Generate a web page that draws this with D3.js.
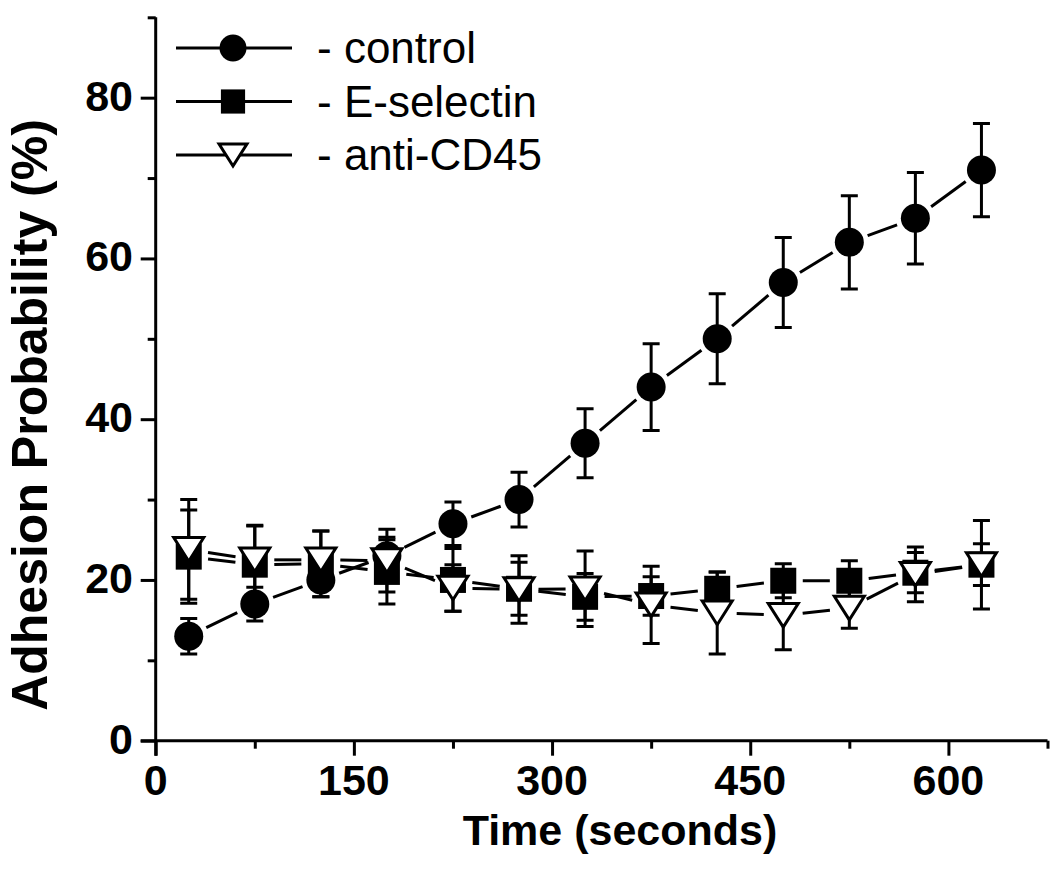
<!DOCTYPE html>
<html>
<head>
<meta charset="utf-8">
<script src="https://cdn.jsdelivr.net/npm/d3@7"></script>
<style>
body { margin: 0; background: #fff; }
svg text { font-family: "Liberation Sans", Arial, sans-serif; fill: #000; }
</style>
</head>
<body>
<div class="chart-wrapper"></div>
<script>

const times = [25, 75, 125, 175, 225, 275, 325, 375, 425, 475, 525, 575, 625]

const control = [13, 17, 20, 23, 27, 30, 37, 44, 50, 57, 62, 65, 71]
const controlErr = [2.2, 2.1, 2.1, 2.3, 2.7, 3.4, 4.3, 5.4, 5.6, 5.6, 5.8, 5.7, 5.8]

const eSelectin = [22.9, 21.9, 22, 21, 20, 18.9, 17.9, 18, 18.9, 19.9, 19.9, 20.9, 21.9]
const eSelectinErr = [5.8, 4.8, 4.1, 4.0, 3.9, 3.3, 2.9, 2.4, 2.1, 2.1, 2.5, 2.5, 2.6]

const antiCD45 = [23.8, 22.5, 22.5, 22.4, 19, 18.8, 18.9, 16.9, 15.9, 15.6, 16.5, 20.7, 21.9]
const antiCD45Err = [6.2, 4.3, 3.6, 3.9, 2.9, 4.2, 4.7, 4.8, 5.1, 4.3, 2.5, 3.4, 5.5]

const xTicks = [0, 150, 300, 450, 600]
const yTicks = [0, 20, 40, 60, 80]

const seriesNames = ['- control', '- E-selectin', '- anti-CD45']

const width = 1050
const height = 888

const svg = d3.select('.chart-wrapper')
.append('svg')
.attr('width', width)
.attr('height', height)

const x = d3.scaleLinear()
.domain([0, 675])
.range([155.7, 1047.5])

const y = d3.scaleLinear()
.domain([0, 90])
.range([740.7, 17.3])

// axes, origin style: ticks outside, minor ticks shorter
const xAxis = svg.append('g')
.attr('transform', `translate(0,${y(0)})`)
.call(d3.axisBottom(x).tickValues(d3.range(0, 676, 75)).tickSize(8).tickFormat(''))

xAxis.selectAll('.tick line')
.filter(d => d % 150 === 0)
.attr('y2', 15)

const yAxis = svg.append('g')
.attr('transform', `translate(${x(0)},0)`)
.call(d3.axisLeft(y).tickValues(d3.range(0, 91, 10)).tickSize(8).tickFormat(''))

yAxis.selectAll('.tick line')
.filter(d => d % 20 === 0)
.attr('x2', -15)

svg.selectAll('.domain')
.attr('stroke', '#000')
.attr('stroke-width', 3)
.attr('d', function() { return d3.select(this).attr('d').replace(/[MV]/g, c => c) })

xAxis.select('.domain').attr('d', `M${x(0) - 15},0H${x(675)}`)
yAxis.select('.domain').attr('d', `M0,${y(90)}V${y(0) + 15}`)

svg.selectAll('.tick line')
.attr('stroke', '#000')
.attr('stroke-width', 3)

svg.append('g')
.selectAll('text')
.data(xTicks)
.enter()
.append('text')
.attr('x', d => x(d))
.attr('y', 795)
.attr('text-anchor', 'middle')
.style('font-size', '43px')
.style('font-weight', 'bold')
.text(d => d)

svg.append('g')
.selectAll('text')
.data(yTicks)
.enter()
.append('text')
.attr('x', 133)
.attr('y', d => y(d) + 13)
.attr('text-anchor', 'end')
.style('font-size', '43px')
.style('font-weight', 'bold')
.text(d => d)

svg.append('text')
.attr('x', 620)
.attr('y', 845)
.attr('text-anchor', 'middle')
.style('font-size', '43px')
.style('font-weight', 'bold')
.text('Time (seconds)')

svg.append('text')
.attr('transform', 'translate(47,415) rotate(-90)')
.attr('text-anchor', 'middle')
.style('font-size', '50px')
.style('font-weight', 'bold')
.text('Adhesion Probability (%)')

// series
const series = [
    {name: seriesNames[0], values: control, err: controlErr, shape: 'circle'},
    {name: seriesNames[1], values: eSelectin, err: eSelectinErr, shape: 'square'},
    {name: seriesNames[2], values: antiCD45, err: antiCD45Err, shape: 'triangle'}
]

const gap = 19.5

const drawMarker = (g, shape, cx, cy, scale) => {
    if(shape === 'circle')
    {
        g.append('circle')
        .attr('cx', cx)
        .attr('cy', cy)
        .attr('r', 14.5 * scale)
        .attr('fill', '#000')
    }
    if(shape === 'square')
    {
        const s = 26 * scale
        g.append('rect')
        .attr('x', cx - s / 2)
        .attr('y', cy - s / 2)
        .attr('width', s)
        .attr('height', s)
        .attr('fill', '#000')
    }
    if(shape === 'triangle')
    {
        const w = 15 * scale, h = 11.8 * scale
        g.append('path')
        .attr('d', `M${cx - w},${cy - h}L${cx + w},${cy - h}L${cx},${cy + h}Z`)
        .attr('fill', '#fff')
        .attr('stroke', '#000')
        .attr('stroke-width', 3)
        .attr('stroke-linejoin', 'miter')
    }
}

const lines = svg.append('g')
const bars = svg.append('g')
const markers = svg.append('g')

series.map(s => {

    const pts = times.map((t, i) => [x(t), y(s.values[i])])

    d3.pairs(pts).map(([a, b]) => {
        const dx = b[0] - a[0], dy = b[1] - a[1]
        const len = Math.sqrt(dx * dx + dy * dy)
        if(len > gap * 2)
        {
            const ux = dx / len, uy = dy / len
            lines.append('line')
            .attr('x1', a[0] + ux * gap)
            .attr('y1', a[1] + uy * gap)
            .attr('x2', b[0] - ux * gap)
            .attr('y2', b[1] - uy * gap)
            .attr('stroke', '#000')
            .attr('stroke-width', 3)
        }
    })

    times.map((t, i) => {
        const cx = x(t)
        const top = y(s.values[i] + s.err[i])
        const bottom = y(s.values[i] - s.err[i])
        bars.append('path')
        .attr('d', `M${cx},${top}V${bottom}M${cx - 8.5},${top}H${cx + 8.5}M${cx - 8.5},${bottom}H${cx + 8.5}`)
        .attr('fill', 'none')
        .attr('stroke', '#000')
        .attr('stroke-width', 3)
    })

    pts.map(p => drawMarker(markers, s.shape, p[0], p[1], 1))
})

// legend
const legend = svg.append('g')

series.map((s, i) => {
    const ly = 48 + i * 53.5
    legend.append('line')
    .attr('x1', 176)
    .attr('x2', 292)
    .attr('y1', ly)
    .attr('y2', ly)
    .attr('stroke', '#000')
    .attr('stroke-width', 3)

    drawMarker(legend, s.shape, 233, ly, 0.93)

    legend.append('text')
    .attr('x', 317)
    .attr('y', ly + 15)
    .style('font-size', '44px')
    .text(s.name)
})

</script>
</body>
</html>
